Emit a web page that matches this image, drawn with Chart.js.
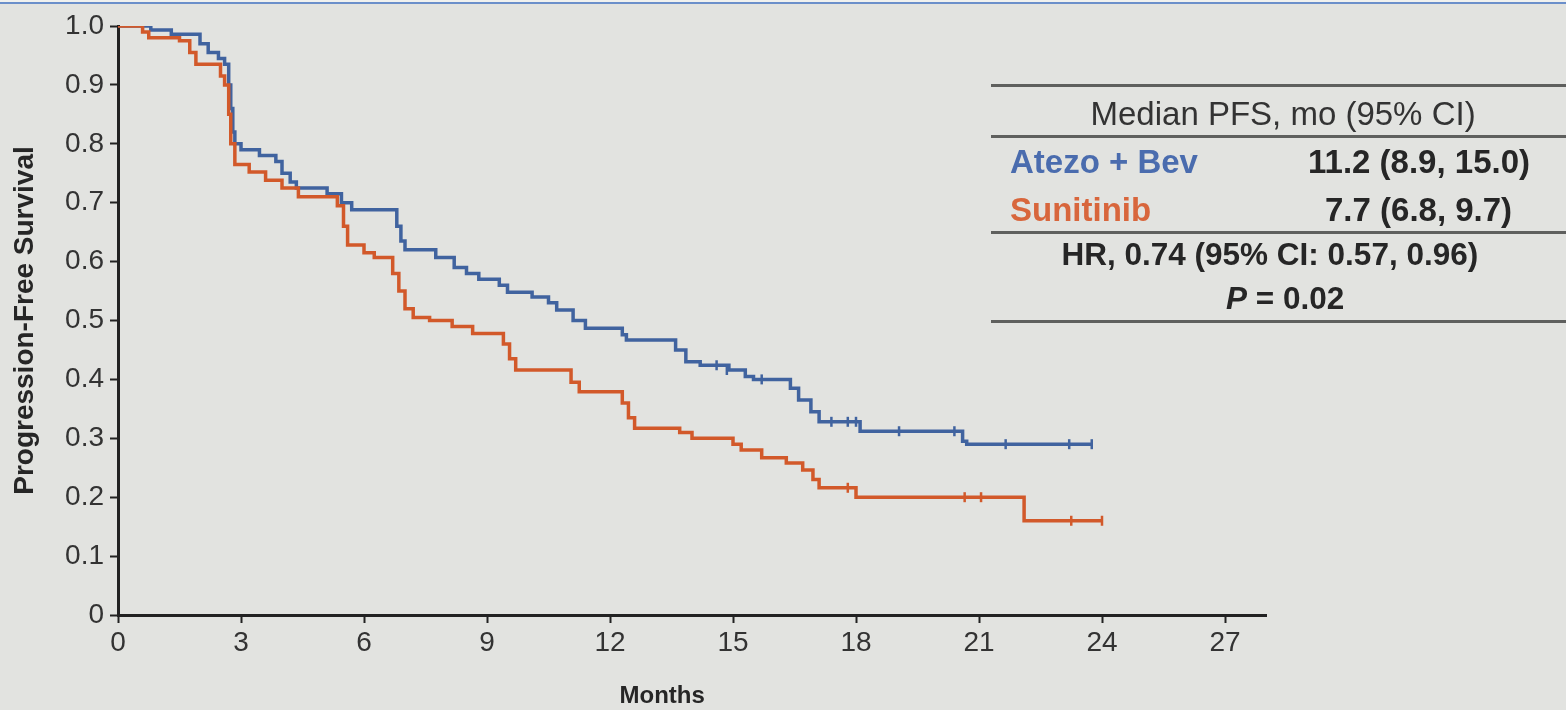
<!DOCTYPE html>
<html>
<head>
<meta charset="utf-8">
<script src="https://cdn.jsdelivr.net/npm/chart.js@4/dist/chart.umd.min.js"></script>
<style>
  html, body { margin: 0; padding: 0; background: #e2e3e0; }
  #wrap { position: relative; width: 1566px; height: 710px; overflow: hidden; background: #e2e3e0; }
  #topline1 { position: absolute; left: 0; top: 0; width: 1566px; height: 2px; background: #f0f1ef; }
  #topline2 { position: absolute; left: 0; top: 2px; width: 1566px; height: 2px; background: #6b8fca; }
  canvas { position: absolute; left: 0; top: 0; }
  .rule { position: absolute; left: 991px; width: 575px; height: 3px; background: #5f605e; }
  .t { position: absolute; font-family: "Liberation Sans", Arial, sans-serif; font-size: 32px; line-height: 1; white-space: nowrap; color: #262626; }
  .b { font-weight: bold; }
</style>
</head>
<body>
<div id="wrap">
  <canvas id="c" width="1566" height="710"></canvas>
  <div id="topline1"></div><div id="topline2"></div>
  <div id="table"></div>
</div>
<script>
// ---- Data ----
const seriesNames = ['Atezo + Bev', 'Sunitinib'];
const seriesColors = ['#40639f', '#d2592a'];

// Kaplan-Meier step points: time (months) and survival after the event
const atezoT = [0, 0.8, 1.3, 2.0, 2.2, 2.45, 2.6, 2.7, 2.75, 2.8, 2.85, 3.0, 3.45, 3.85, 4.0, 4.2, 4.35, 5.1, 5.45, 5.7, 6.8, 6.9, 7.0, 7.75, 8.2, 8.5, 8.8, 9.3, 9.5, 10.1, 10.5, 10.7, 11.1, 11.4, 12.3, 12.4, 13.6, 13.85, 14.2, 14.9, 15.3, 15.5, 16.4, 16.6, 16.9, 17.1, 18.1, 20.6, 20.7, 23.75];
const atezoS = [1.0, 0.993, 0.986, 0.97, 0.955, 0.945, 0.935, 0.90, 0.86, 0.82, 0.80, 0.79, 0.78, 0.77, 0.75, 0.735, 0.725, 0.715, 0.70, 0.688, 0.66, 0.635, 0.62, 0.607, 0.59, 0.58, 0.57, 0.56, 0.548, 0.54, 0.53, 0.518, 0.50, 0.487, 0.476, 0.467, 0.45, 0.43, 0.424, 0.416, 0.405, 0.40, 0.385, 0.365, 0.345, 0.328, 0.312, 0.295, 0.29, 0.29];

const suniT = [0, 0.6, 0.75, 1.5, 1.75, 1.9, 2.5, 2.6, 2.7, 2.75, 2.85, 3.2, 3.6, 4.0, 4.4, 5.35, 5.5, 5.6, 6.0, 6.25, 6.7, 6.85, 7.0, 7.2, 7.6, 8.15, 8.65, 9.4, 9.55, 9.7, 11.05, 11.25, 12.3, 12.45, 12.6, 13.7, 14.0, 15.0, 15.2, 15.7, 16.3, 16.7, 16.95, 17.1, 18.0, 22.1, 24.0];
const suniS = [1.0, 0.99, 0.98, 0.975, 0.955, 0.935, 0.915, 0.90, 0.85, 0.80, 0.765, 0.752, 0.738, 0.725, 0.71, 0.695, 0.66, 0.628, 0.615, 0.607, 0.58, 0.55, 0.52, 0.505, 0.50, 0.49, 0.478, 0.46, 0.435, 0.416, 0.395, 0.379, 0.36, 0.335, 0.317, 0.31, 0.30, 0.29, 0.28, 0.267, 0.258, 0.246, 0.23, 0.216, 0.20, 0.16, 0.16];

// Censoring marks
const atezoCensT = [14.6, 14.85, 15.7, 17.4, 17.8, 18.0, 19.05, 20.4, 21.65, 23.2, 23.75];
const atezoCensS = [0.424, 0.416, 0.40, 0.328, 0.328, 0.328, 0.312, 0.312, 0.29, 0.29, 0.29];
const suniCensT = [17.8, 20.65, 21.05, 23.25, 24.0];
const suniCensS = [0.216, 0.20, 0.20, 0.16, 0.16];

const xTicks = [0, 3, 6, 9, 12, 15, 18, 21, 24, 27];
const yTicks = [0, 0.1, 0.2, 0.3, 0.4, 0.5, 0.6, 0.7, 0.8, 0.9, 1.0];
const yTickLabels = ['0', '0.1', '0.2', '0.3', '0.4', '0.5', '0.6', '0.7', '0.8', '0.9', '1.0'];
const xTitle = 'Months';
const yTitle = 'Progression-Free Survival';

// Table text
const tableHeader = 'Median PFS, mo (95% CI)';
const tableMedians = ['11.2 (8.9, 15.0)', '7.7 (6.8, 9.7)'];
const hrText = 'HR, 0.74 (95% CI: 0.57, 0.96)';
const pLabel = 'P';
const pValue = ' = 0.02';

// ---- Build ----
const toPts = (t, s) => t.map((v, i) => ({ x: v, y: s[i] }));
const AXIS = '#222222';
const TXT = '#333333';

const datasets = [
  { label: seriesNames[0], data: toPts(atezoT, atezoS), borderColor: seriesColors[0], borderWidth: 3.5, stepped: 'before', pointRadius: 0, fill: false, order: 2 },
  { label: seriesNames[1], data: toPts(suniT, suniS), borderColor: seriesColors[1], borderWidth: 3.5, stepped: 'before', pointRadius: 0, fill: false, order: 1 },
  { label: seriesNames[0] + ' censored', data: toPts(atezoCensT, atezoCensS), showLine: false, pointStyle: 'line', rotation: 90, pointRadius: 5, borderColor: seriesColors[0], borderWidth: 2.5, order: 0 },
  { label: seriesNames[1] + ' censored', data: toPts(suniCensT, suniCensS), showLine: false, pointStyle: 'line', rotation: 90, pointRadius: 5, borderColor: seriesColors[1], borderWidth: 2.5, order: 0 }
];

new Chart(document.getElementById('c'), {
  type: 'line',
  data: { datasets },
  options: {
    responsive: false,
    animation: false,
    layout: { padding: { top: 26, right: 300, left: 0, bottom: 0 } },
    plugins: { legend: { display: false }, tooltip: { enabled: false } },
    scales: {
      x: {
        type: 'linear', min: 0, max: 28,
        afterBuildTicks: s => { s.ticks = xTicks.map(v => ({ value: v })); },
        afterFit: s => { s.height = 95; },
        grid: { drawOnChartArea: false, drawTicks: true, tickLength: 8, tickWidth: 2, color: AXIS },
        border: { display: true, color: AXIS, width: 3 },
        ticks: { color: TXT, font: { family: "'Liberation Sans Narrow', 'Liberation Sans', Arial", size: 28 }, padding: 3, maxRotation: 0, autoSkip: false },
        title: { display: false, text: xTitle }
      },
      y: {
        type: 'linear', min: 0, max: 1,
        afterBuildTicks: s => { s.ticks = yTicks.map(v => ({ value: v })); },
        afterFit: s => { s.width = 118; },
        grid: { drawOnChartArea: false, drawTicks: true, tickLength: 8, tickWidth: 2, color: AXIS },
        border: { display: true, color: AXIS, width: 3 },
        ticks: { color: TXT, font: { family: "'Liberation Sans', Arial", size: 28 }, padding: 6, autoSkip: false,
          callback: (v) => { const i = yTicks.findIndex(t => Math.abs(t - v) < 1e-9); return i >= 0 ? yTickLabels[i] : ''; } },
        title: { display: true, text: yTitle, color: '#262626', font: { family: "'Liberation Sans', Arial", size: 28, weight: 'bold' }, padding: { top: 8, bottom: 0 } }
      }
    }
  }
});

// ---- Table overlay and x-axis title (HTML text) ----
const tbl = document.getElementById('table');
function rule(top) { const d = document.createElement('div'); d.className = 'rule'; d.style.top = top + 'px'; tbl.appendChild(d); }
function text(str, opts) {
  const d = document.createElement('div'); d.className = 't' + (opts.bold ? ' b' : '');
  if (opts.html) d.innerHTML = str; else d.textContent = str;
  if (opts.color) d.style.color = opts.color;
  if (opts.size) d.style.fontSize = opts.size + 'px';
  tbl.appendChild(d);
  const h = d.offsetHeight;
  d.style.top = (opts.cy - h / 2) + 'px';
  const w = d.offsetWidth;
  if (opts.cx !== undefined) d.style.left = (opts.cx - w / 2) + 'px';
  else if (opts.right !== undefined) d.style.left = (opts.right - w) + 'px';
  else d.style.left = opts.left + 'px';
  return d;
}
rule(84); rule(135); rule(231); rule(320);
text(tableHeader, { cx: 1283, cy: 113, size: 33, color: '#333333' });
text(seriesNames[0], { left: 1010, cy: 161, bold: true, color: '#4a6cae', size: 33 });
text(tableMedians[0], { right: 1530, cy: 161, bold: true, size: 33 });
text(seriesNames[1], { left: 1010, cy: 209, bold: true, color: '#d8663c', size: 33 });
text(tableMedians[1], { right: 1512, cy: 209, bold: true, size: 33 });
text(hrText, { cx: 1270, cy: 255, bold: true, size: 31.5 });
text('<i>' + pLabel + '</i>' + pValue, { cx: 1285, cy: 299, bold: true, html: true, size: 31.5 });
text(xTitle, { cx: 662, cy: 695, bold: true, size: 24 });
</script>
</body>
</html>
